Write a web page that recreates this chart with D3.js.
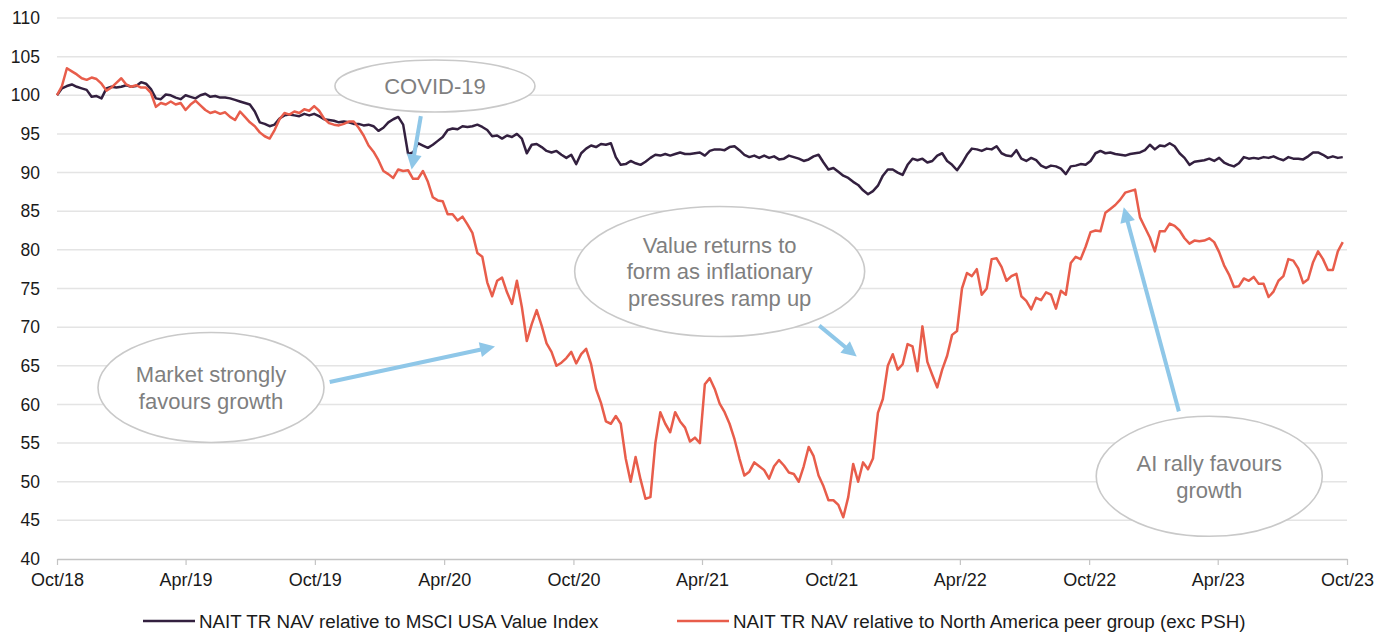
<!DOCTYPE html>
<html>
<head>
<meta charset="utf-8">
<script src="https://cdn.jsdelivr.net/npm/d3@7"></script>
<style>
  html, body { margin: 0; padding: 0; background: #ffffff; }
  svg { display: block; font-family: Arial, "Liberation Sans", sans-serif; }
</style>
</head>
<body>
<svg id="chart" width="1389" height="633"></svg>
<script>
// ---------------- DATA ----------------
const seriesNames = [
  "NAIT TR NAV relative to MSCI USA Value Index",
  "NAIT TR NAV relative to North America peer group (exc PSH)"
];
const startDate = "2018-10-01";   // weekly observations from this date
const endDate = "2023-10-01";

// NAIT TR NAV relative to MSCI USA Value Index (weekly)
const navVsValue = [
 100.0,100.9,101.2,101.4,101.1,100.9,100.7,99.8,99.9,99.6,
 100.9,101.1,101.0,101.1,101.3,101.1,101.2,101.7,101.5,100.8,
 99.6,99.5,100.1,100.0,99.7,99.5,100.0,99.8,99.6,100.0,
 100.2,99.8,99.9,99.7,99.7,99.6,99.4,99.2,99.0,98.8,
 97.9,96.5,96.3,96.0,96.2,97.0,97.4,97.5,97.4,97.3,
 97.6,97.4,97.6,97.3,96.9,96.8,96.7,96.5,96.6,96.5,
 96.3,96.3,96.1,96.2,96.0,95.4,95.8,96.5,96.9,97.2,
 96.2,92.4,92.6,93.8,93.5,93.2,93.6,94.1,94.6,95.5,
 95.7,95.6,96.0,95.9,96.0,96.2,95.9,95.5,94.7,94.8,
 94.4,94.8,94.6,95.0,94.4,92.5,93.6,93.7,93.3,92.8,
 92.6,92.8,92.3,91.9,92.3,91.1,92.5,93.1,93.5,93.3,
 93.7,93.6,93.8,92.0,91.0,91.1,91.5,91.2,91.0,91.4,
 91.9,92.3,92.2,92.4,92.2,92.4,92.6,92.4,92.4,92.5,
 92.6,92.2,92.8,93.0,93.0,92.9,93.3,93.4,92.9,92.3,
 92.0,92.2,91.9,92.2,91.9,92.1,91.7,91.8,92.2,92.0,
 91.8,91.5,91.7,92.1,92.3,91.3,90.4,90.6,90.1,89.6,
 89.3,88.8,88.4,87.7,87.2,87.6,88.3,89.6,90.4,90.4,
 90.0,89.7,91.0,91.8,91.6,91.8,91.3,91.5,92.2,92.5,
 91.5,91.0,90.3,91.2,92.3,93.1,93.0,92.8,93.1,93.0,
 93.4,92.5,92.2,92.1,92.9,91.8,91.5,91.9,91.6,90.9,
 90.6,90.9,90.8,90.5,89.8,90.8,90.9,91.1,91.0,91.5,
 92.5,92.8,92.5,92.6,92.4,92.3,92.2,92.4,92.5,92.6,
 92.9,93.6,93.0,93.5,93.4,93.8,93.4,92.5,91.9,91.0,
 91.4,91.5,91.6,91.8,91.5,91.9,91.3,91.0,90.8,91.2,
 92.0,91.8,91.9,91.8,92.0,91.9,92.1,91.8,91.6,92.0,
 91.8,91.8,91.7,92.1,92.6,92.6,92.3,91.9,92.1,91.9,
 92.0
];

// NAIT TR NAV relative to North America peer group (exc PSH) (weekly)
const navVsPeers = [
 100.0,101.2,103.5,103.1,102.7,102.2,102.0,102.3,102.1,101.5,
 100.6,101.0,101.6,102.2,101.4,101.1,101.3,101.0,101.0,100.3,
 98.5,99.0,98.8,99.2,98.8,99.0,98.1,98.8,99.3,98.7,
 98.1,97.7,97.9,97.6,97.8,97.2,96.8,97.9,97.2,96.5,
 96.0,95.2,94.7,94.4,95.5,96.9,97.7,97.5,97.9,97.7,
 98.2,98.0,98.6,98.0,97.0,96.4,96.2,96.1,96.3,96.6,
 96.6,95.8,94.8,93.5,92.7,91.6,90.2,89.8,89.3,90.4,
 90.2,90.3,89.2,89.2,90.2,88.8,86.8,86.4,86.3,84.6,
 84.6,83.8,84.3,83.3,82.2,79.6,79.1,75.8,74.0,76.0,
 76.4,74.5,73.0,76.0,72.6,68.2,70.4,72.2,70.2,67.9,
 66.8,65.0,65.4,66.0,66.8,65.3,66.5,67.2,65.2,62.0,
 60.2,57.8,57.5,58.5,57.5,53.0,50.0,53.2,50.3,47.8,
 48.0,55.0,59.0,57.5,56.4,59.0,57.8,57.0,55.2,55.7,
 55.0,62.6,63.4,62.0,60.1,59.0,57.5,55.5,53.0,50.8,
 51.3,52.5,52.0,51.5,50.4,52.0,52.8,52.1,51.2,51.0,
 50.0,52.0,54.5,53.3,50.8,49.4,47.6,47.6,47.0,45.4,
 48.0,52.3,50.0,52.5,51.6,53.0,58.9,60.7,65.0,66.5,
 64.5,65.2,67.8,67.5,64.3,70.1,65.5,63.8,62.2,64.5,
 66.3,69.0,69.5,75.0,77.0,76.6,77.5,74.2,75.0,78.8,
 78.9,77.8,76.0,76.6,76.9,74.0,73.4,72.3,73.8,73.5,
 74.5,74.2,72.4,74.7,74.2,78.3,79.1,78.8,80.4,82.3,
 82.5,82.4,84.8,85.3,85.8,86.5,87.4,87.6,87.8,84.2,
 82.9,81.6,79.8,82.4,82.4,83.4,83.1,82.5,81.5,80.8,
 81.2,81.1,81.2,81.5,81.0,79.7,78.0,76.8,75.2,75.3,
 76.3,76.0,76.5,75.6,75.6,73.9,74.6,76.0,76.6,78.8,
 78.6,77.6,75.7,76.2,78.4,79.8,78.8,77.4,77.4,79.8,
 81.0
];

const yTicks = [40, 45, 50, 55, 60, 65, 70, 75, 80, 85, 90, 95, 100, 105, 110];
const xTickDates = ["2018-10-01","2019-04-01","2019-10-01","2020-04-01","2020-10-01",
  "2021-04-01","2021-10-01","2022-04-01","2022-10-01","2023-04-01","2023-10-01"];
const xTickLabels = ["Oct/18","Apr/19","Oct/19","Apr/20","Oct/20","Apr/21","Oct/21",
  "Apr/22","Oct/22","Apr/23","Oct/23"];

// Callouts: centre and arrow ends anchored in data space (date, value)
const callouts = [
  { lines: ["COVID-19"], at: ["2020-03-19", 101.2], rx: 100, ry: 26,
    from: ["2020-02-28", 97.3], to: ["2020-02-15", 90.4] },
  { lines: ["Market strongly", "favours growth"], at: ["2019-05-07", 62.2], rx: 113, ry: 55,
    from: ["2019-10-22", 62.9], to: ["2020-06-12", 67.5] },
  { lines: ["Value returns to", "form as inflationary", "pressures ramp up"], at: ["2021-04-26", 77.2], rx: 145, ry: 65,
    from: ["2021-09-14", 70.2], to: ["2021-11-06", 66.2] },
  { lines: ["AI rally favours", "growth"], at: ["2023-03-20", 50.7], rx: 113, ry: 60,
    from: ["2023-02-05", 59.1], to: ["2022-11-19", 85.5] }
];

// ---------------- CHART ----------------
const colors = ["#33203f", "#e85d4b"];
const svg = d3.select("#chart");
const parse = d3.timeParse("%Y-%m-%d");
const plot = { left: 57, right: 1347, top: 18, bottom: 559 };

const x = d3.scaleTime().domain([parse(startDate), parse(endDate)]).range([plot.left, plot.right]);
const y = d3.scaleLinear().domain([40, 110]).range([plot.bottom, plot.top]);

const dates = navVsValue.map((_, i) => d3.timeDay.offset(parse(startDate), 7 * i));

// gridlines
svg.append("g").selectAll("line").data(yTicks.filter(d => d !== 40)).join("line")
  .attr("x1", plot.left).attr("x2", plot.right)
  .attr("y1", d => y(d)).attr("y2", d => y(d))
  .attr("stroke", "#e4e4e4").attr("stroke-width", 1.5);

// y axis labels
const yAxis = d3.axisLeft(y).tickValues(yTicks).tickSize(0).tickPadding(17);
const gy = svg.append("g").attr("transform", `translate(${plot.left},0)`).call(yAxis);
gy.select(".domain").remove();
gy.selectAll("text").attr("font-size", 17.5).attr("fill", "#1a1a1a")
  .attr("font-family", "Arial, 'Liberation Sans', sans-serif");

// x axis
const xAxis = d3.axisBottom(x).tickValues(xTickDates.map(parse))
  .tickFormat((d, i) => xTickLabels[i]).tickSize(6).tickSizeOuter(0).tickPadding(8);
const gx = svg.append("g").attr("transform", `translate(0,${plot.bottom})`).call(xAxis);
gx.select(".domain").attr("stroke", "#c4c4c4").attr("stroke-width", 1.5);
gx.selectAll(".tick line").attr("stroke", "#c4c4c4").attr("stroke-width", 1.2);
gx.selectAll("text").attr("font-size", 18).attr("fill", "#1a1a1a")
  .attr("font-family", "Arial, 'Liberation Sans', sans-serif");

// lines
const line = d3.line().x((d, i) => x(dates[i])).y(d => y(d));
[navVsValue, navVsPeers].forEach((s, k) => {
  svg.append("path").datum(s).attr("d", line)
    .attr("fill", "none").attr("stroke", colors[k]).attr("stroke-width", 2.5)
    .attr("stroke-linejoin", "round");
});

// callouts
const arrowColor = "#8fc7e8";
callouts.forEach(c => {
  const cx = x(parse(c.at[0])), cy = y(c.at[1]);
  const g = svg.append("g");
  g.append("ellipse").attr("cx", cx).attr("cy", cy).attr("rx", c.rx).attr("ry", c.ry)
    .attr("fill", "#ffffff").attr("stroke", "#c9c9c9").attr("stroke-width", 1.6);
  const lh = 26.5;
  const t = g.append("text").attr("text-anchor", "middle").attr("fill", "#7f7f7f")
    .attr("font-size", 22).attr("font-family", "Arial, 'Liberation Sans', sans-serif");
  c.lines.forEach((ln, i) => {
    t.append("tspan").attr("x", cx)
      .attr("y", cy + (i - (c.lines.length - 1) / 2) * lh + 8).text(ln);
  });
  // arrow
  const x1 = x(parse(c.from[0])), y1 = y(c.from[1]);
  const x2 = x(parse(c.to[0])), y2 = y(c.to[1]);
  const ang = Math.atan2(y2 - y1, x2 - x1);
  const hl = 15, hw = 7.5;
  const bx = x2 - hl * Math.cos(ang), by = y2 - hl * Math.sin(ang);
  svg.append("line").attr("x1", x1).attr("y1", y1).attr("x2", bx + 2 * Math.cos(ang)).attr("y2", by + 2 * Math.sin(ang))
    .attr("stroke", arrowColor).attr("stroke-width", 4);
  const px = -Math.sin(ang), py = Math.cos(ang);
  svg.append("path")
    .attr("d", `M${x2},${y2}L${bx + hw * px},${by + hw * py}L${bx - hw * px},${by - hw * py}Z`)
    .attr("fill", arrowColor);
});

// legend
const legendItems = [{ x: 143 }, { x: 677 }];
const lg = svg.append("g");
seriesNames.forEach((name, k) => {
  const lx = legendItems[k].x;
  lg.append("line").attr("x1", lx).attr("x2", lx + 52).attr("y1", 621).attr("y2", 621)
    .attr("stroke", colors[k]).attr("stroke-width", 2.6);
  lg.append("text").attr("x", lx + 56).attr("y", 627.5).attr("font-size", 18.8)
    .attr("fill", "#1a1a1a").attr("font-family", "Arial, 'Liberation Sans', sans-serif").text(name);
});
</script>
</body>
</html>
